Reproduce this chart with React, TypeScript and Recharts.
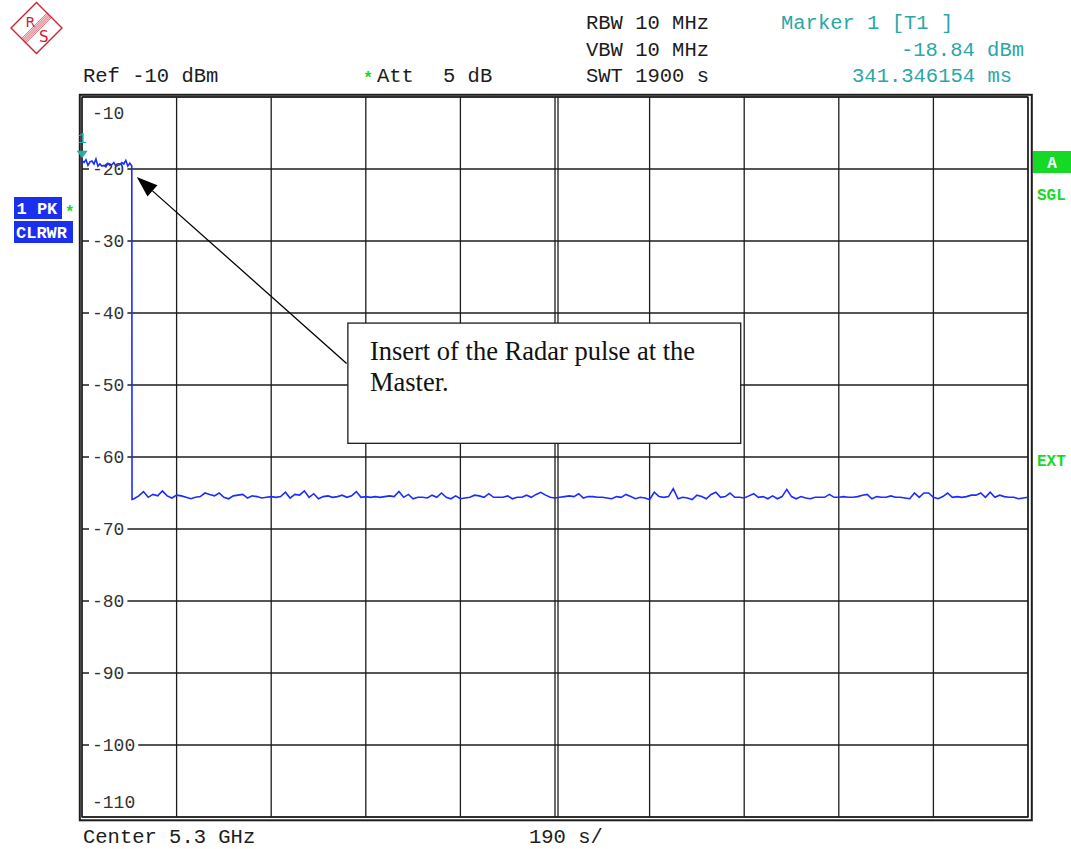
import React from "react";
import {
  LineChart,
  Line,
  XAxis,
  YAxis,
  CartesianGrid,
  ReferenceArea,
  ReferenceLine,
  ReferenceDot,
} from "recharts";

// zero-span sweep: 1900 s, 190 s per division
const timeTicks = [0, 190, 380, 570, 760, 950, 1140, 1330, 1520, 1710, 1900];
const levelTicks = [-10, -20, -30, -40, -50, -60, -70, -80, -90, -100, -110];

// peak detector while the radar pulse is on, one bin every 4 s
const PULSE_STEP = 4;
const pulseLevels = [
  -18.84, -19.1, -18.7, -19.5, -19.0, -18.9, -19.3, -18.6, -19.6, -19.3, -19.6, -19.5, -19.7,
  -19.2, -19.5, -19.4, -19.1, -19.6, -19.5, -19.4, -19.1, -19.3, -18.8, -19.6, -19.2, -19.6,
];

// bottom of the falling edge
const fallTime = 100.5;
const fallLevel = -65.9;

// noise floor after the pulse, one bin every 9.5 s from 104.5 s
const NOISE_START = 104.5;
const NOISE_STEP = 9.5;
const noiseLevels = [
  -65.8, -65.4, -64.8, -65.6, -65.2, -65.4, -64.7, -65.4, -65.7, -65.3,
  -65.4, -65.6, -65.8, -65.6, -65.5, -65.0, -65.2, -65.4, -65.0, -65.6,
  -65.8, -65.4, -65.3, -65.2, -65.7, -65.4, -65.5, -65.7, -65.6, -65.5,
  -65.6, -65.5, -64.9, -65.7, -65.2, -65.3, -64.7, -65.6, -65.1, -65.8,
  -65.5, -65.4, -65.6, -65.5, -65.3, -65.6, -65.4, -64.8, -65.6, -65.5,
  -65.6, -65.5, -65.6, -65.5, -65.4, -65.5, -64.8, -65.6, -65.2, -65.8,
  -65.6, -65.6, -65.7, -65.3, -65.6, -65.0, -65.6, -65.8, -65.4, -65.8,
  -65.7, -65.6, -65.3, -65.4, -65.6, -65.1, -65.6, -65.6, -65.6, -65.4,
  -65.8, -65.6, -65.6, -65.3, -65.6, -65.2, -64.9, -65.3, -65.6, -65.7,
  -65.6, -65.5, -65.4, -65.5, -65.1, -65.7, -65.5, -65.5, -65.6, -65.6,
  -65.7, -65.8, -65.5, -65.6, -65.2, -65.5, -65.8, -65.6, -65.7, -65.9,
  -64.9, -65.5, -65.6, -65.5, -64.4, -65.8, -65.6, -65.7, -65.9, -65.3,
  -65.5, -65.8, -65.2, -64.9, -65.6, -65.5, -65.0, -65.6, -65.6, -65.7,
  -65.4, -65.1, -65.6, -65.5, -65.8, -65.4, -65.8, -65.5, -64.5, -65.5,
  -65.8, -65.5, -65.7, -65.8, -65.6, -65.6, -65.6, -65.2, -65.6, -65.6,
  -65.5, -65.6, -65.6, -65.5, -65.3, -65.2, -65.8, -65.5, -65.6, -65.6,
  -65.4, -65.6, -65.6, -65.7, -65.8, -65.0, -65.6, -65.0, -65.0, -65.6,
  -65.8, -65.5, -65.0, -65.6, -65.5, -65.6, -65.5, -65.3, -65.3, -65.0,
  -65.6, -64.9, -65.6, -65.3, -65.5, -65.6, -65.6, -65.8, -65.7, -65.6,
];

// marker 1 readout
const markerTime = 0.341346154;
const markerLevel = -18.84;

// annotation box and arrow, in time / level units
const noteTimes = [534, 1323];
const noteLevels = [-41.4, -58.1];
const arrowFrom = { t: 531.5, dbm: -47.0 };
const arrowTo = { t: 110, dbm: -21.1 };

const trace = [
  ...pulseLevels.map((dbm, i) => ({ t: i * PULSE_STEP, dbm })),
  { t: fallTime, dbm: fallLevel },
  ...noiseLevels.map((dbm, i) => ({ t: NOISE_START + i * NOISE_STEP, dbm })),
];

const W = 1071;
const H = 849;
const MARGIN = { top: 97, right: 43, bottom: 32, left: 82 };

const INK = "#1c1c1c";
const TRACE = "#1a2cff";
const TEAL = "#2aa7a7";
const GREEN = "#16d926";
const BOX_BLUE = "#1a30ee";
const MONO = "'Courier New', 'Liberation Mono', monospace";
const SERIF = "'Times New Roman', 'Liberation Serif', serif";

// level label; a short white strip hides the grid line behind the digits
const levelLabel = (v: number) => (p: any) => {
  let dy = 1;
  if (v === -10) dy = 17;
  if (v === -110) dy = -14;
  const inside = v !== -10 && v !== -110;
  const stripW = String(v).length * 10.8 + 6;
  return (
    <g>
      {inside && <rect x={p.x1 + 7} y={p.y1 - 2.5} width={stripW} height={5} fill="#fff" />}
      <text
        x={p.x1 + 10}
        y={p.y1 + dy}
        dominantBaseline="central"
        fontFamily={MONO}
        fontSize={18}
        fill="#333"
      >
        {v}
      </text>
    </g>
  );
};

const CenterLine = (p: any) => (
  <g stroke={INK} strokeWidth={1.3}>
    <line x1={p.x1 + 3} y1={p.y1} x2={p.x2 + 3} y2={p.y2} />
  </g>
);

const Frame = (p: any) => (
  <g fill="none" stroke={INK}>
    <rect x={p.x} y={p.y} width={p.width} height={p.height} strokeWidth={1.3} />
    <rect x={p.x - 2.2} y={p.y - 2.2} width={p.width + 6} height={p.height + 5.5} strokeWidth={2} />
  </g>
);

const MarkerShape = (p: any) => {
  const { cx, cy } = p;
  return (
    <g fill={TEAL}>
      <polygon points={`${cx - 5.5},${cy - 10} ${cx + 5.5},${cy - 10} ${cx},${cy - 2.5}`} />
      <text x={cx} y={cy - 18} textAnchor="middle" fontFamily={MONO} fontSize={15}>
        1
      </text>
    </g>
  );
};

const Arrow = (p: any) => {
  const { x1, y1, x2, y2 } = p;
  const dx = x2 - x1;
  const dy = y2 - y1;
  const len = Math.hypot(dx, dy);
  const ux = dx / len;
  const uy = dy / len;
  const headLen = 21;
  const headHalf = 7.5;
  const bx = x2 - ux * headLen;
  const by = y2 - uy * headLen;
  return (
    <g>
      <line x1={x1} y1={y1} x2={bx} y2={by} stroke="#000" strokeWidth={1.3} />
      <polygon
        points={`${x2},${y2} ${bx - uy * headHalf},${by + ux * headHalf} ${bx + uy * headHalf},${by - ux * headHalf}`}
        fill="#000"
      />
    </g>
  );
};

const NoteBox = (p: any) => (
  <g>
    <rect x={p.x} y={p.y} width={p.width} height={p.height} fill="#fff" stroke={INK} strokeWidth={1.3} />
    <text fontFamily={SERIF} fontSize={26.5} fill="#111">
      <tspan x={p.x + 22} y={p.y + 37}>Insert of the Radar pulse at the</tspan>
      <tspan x={p.x + 22} y={p.y + 68}>Master.</tspan>
    </text>
  </g>
);

const Logo = () => {
  const cx = 36.5;
  const cy = 28;
  const offsets = [-3, -1.5, 0, 1.5, 3];
  return (
    <g>
      <polygon
        points={`${cx},${cy - 25.5} ${cx + 25.5},${cy} ${cx},${cy + 25.5} ${cx - 25.5},${cy}`}
        fill="none"
        stroke="#cc2233"
        strokeWidth={1.4}
      />
      {offsets.map((o) => (
        <line
          key={o}
          x1={cx - 12.75 + o * 0.707}
          y1={cy + 12.75 + o * 0.707}
          x2={cx + 12.75 + o * 0.707}
          y2={cy - 12.75 + o * 0.707}
          stroke="#cc2233"
          strokeWidth={0.8}
        />
      ))}
      <text x={25.5} y={26.5} fontFamily="'DejaVu Sans', sans-serif" fontSize={14} fill="#cc2233">
        R
      </text>
      <text x={39} y={42} fontFamily="'DejaVu Sans', sans-serif" fontSize={15} fill="#cc2233">
        S
      </text>
    </g>
  );
};

const Readouts = () => (
  <svg width={W} height={H} style={{ position: "absolute", left: 0, top: 0, pointerEvents: "none" }}>
    <Logo />
    <g fontFamily={MONO} fontSize={20.5} fill={INK}>
      <text x={83} y={82}>Ref -10 dBm</text>
      <text x={377} y={82}>Att</text>
      <text x={443} y={82}>5 dB</text>
      <text x={586} y={29}>RBW 10 MHz</text>
      <text x={586} y={55.5}>VBW 10 MHz</text>
      <text x={586} y={82}>SWT 1900 s</text>
      <text x={83} y={843}>Center 5.3 GHz</text>
      <text x={529} y={843}>190 s/</text>
    </g>
    <text x={363} y={83} fontFamily={MONO} fontSize={17} fontWeight="bold" fill={GREEN}>
      *
    </text>
    <g fontFamily={MONO} fontSize={20.5} fill={TEAL}>
      <text x={781} y={29}>Marker 1 [T1 ]</text>
      <text x={1024} y={55.5} textAnchor="end">-18.84 dBm</text>
      <text x={1012} y={82} textAnchor="end">341.346154 ms</text>
    </g>

    <rect x={14} y={197} width={48} height={22} fill={BOX_BLUE} />
    <rect x={14} y={221} width={59} height={22} fill={BOX_BLUE} />
    <g fontFamily={MONO} fontSize={17} fontWeight="bold" fill="#fff">
      <text x={16.5} y={214}>1 PK</text>
      <text x={16} y={238}>CLRWR</text>
    </g>
    <text x={65} y={217} fontFamily={MONO} fontSize={16} fontWeight="bold" fill={GREEN}>
      *
    </text>

    <rect x={1033} y={151} width={38} height={22} fill={GREEN} />
    <g fontFamily={MONO} fontSize={16} fontWeight="bold">
      <text x={1052} y={168} textAnchor="middle" fill="#fff">A</text>
      <text x={1037} y={200} fill={GREEN}>SGL</text>
      <text x={1037} y={466} fill={GREEN}>EXT</text>
    </g>
  </svg>
);

const axes = [
  <XAxis key="x" dataKey="t" type="number" domain={[0, 1900]} ticks={timeTicks} hide />,
  <YAxis key="y" dataKey="dbm" type="number" domain={[-110, -10]} ticks={levelTicks} hide />,
];

export default function App() {
  return (
    <div style={{ position: "absolute", left: 0, top: 0, width: W, height: H, background: "#fff" }}>
      {/* screen graticule */}
      <div style={{ position: "absolute", left: 0, top: 0 }}>
        <LineChart width={W} height={H} data={trace} margin={MARGIN}>
          <CartesianGrid
            stroke={INK}
            strokeWidth={1.3}
            horizontalValues={levelTicks}
            verticalValues={timeTicks}
          />
          {axes}
          <ReferenceLine x={950} shape={CenterLine} />
          <ReferenceArea x1={0} x2={1900} y1={-110} y2={-10} shape={Frame} />
        </LineChart>
      </div>
      {/* trace, level labels and note on top of the graticule */}
      <div style={{ position: "absolute", left: 0, top: 0 }}>
        <LineChart width={W} height={H} data={trace} margin={MARGIN}>
          {axes}
          {levelTicks.map((v) => (
            <ReferenceLine key={v} y={v} shape={levelLabel(v)} />
          ))}
          <ReferenceArea
            x1={noteTimes[0]}
            x2={noteTimes[1]}
            y1={noteLevels[1]}
            y2={noteLevels[0]}
            shape={NoteBox}
          />
          <ReferenceLine
            segment={[
              { x: arrowFrom.t, y: arrowFrom.dbm },
              { x: arrowTo.t, y: arrowTo.dbm },
            ]}
            shape={Arrow}
          />
          <Line
            type="linear"
            dataKey="dbm"
            stroke={TRACE}
            strokeWidth={1.6}
            dot={false}
            isAnimationActive={false}
          />
          <ReferenceDot x={markerTime} y={markerLevel} shape={MarkerShape} />
        </LineChart>
      </div>
      <Readouts />
    </div>
  );
}
